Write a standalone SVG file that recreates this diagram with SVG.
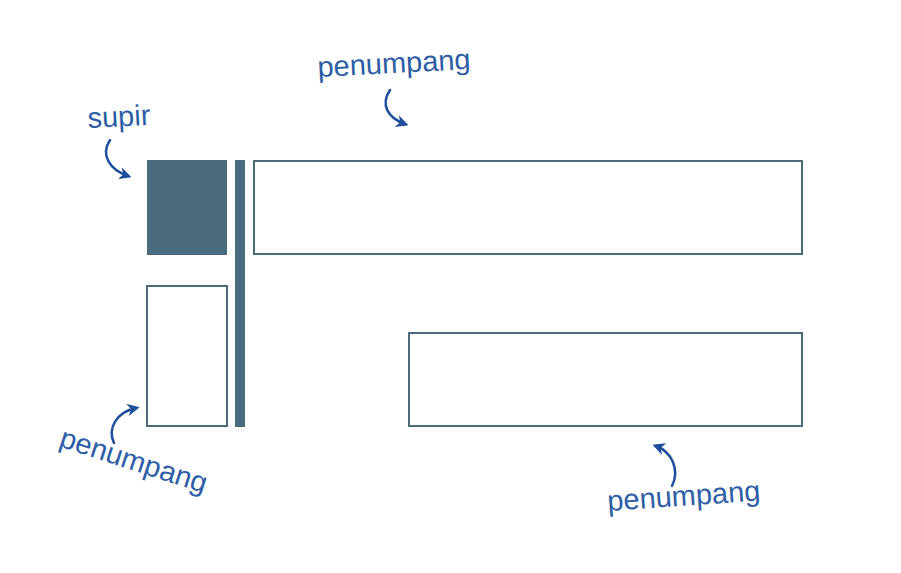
<svg xmlns="http://www.w3.org/2000/svg" width="901" height="573" viewBox="0 0 901 573">
<defs>
<marker id="ah" viewBox="0 0 10 10" refX="7" refY="5" markerWidth="5" markerHeight="5" orient="auto" markerUnits="strokeWidth">
<path d="M0,0 L10,5 L0,10 L3,5 Z" fill="#1f4f9c"/>
</marker>
<style>
.lbl{font-family:"Liberation Sans",Arial,sans-serif;font-size:29px;fill:#2d5ea6;}
.box{fill:#ffffff;stroke:#4a6a7c;stroke-width:2;}
.solid{fill:#4a6b7d;}
.arr{fill:none;stroke:#1f4f9c;stroke-width:2.5;stroke-linecap:round;marker-end:url(#ah);}
</style>
</defs>
<rect width="901" height="573" fill="#ffffff"/>
<g id="supir-seat"><rect class="solid" x="147" y="160" width="80" height="95"/></g>
<g id="divider"><rect class="solid" x="235" y="160" width="10" height="267"/></g>
<g id="top-bench"><rect class="box" x="254" y="161" width="548" height="93"/></g>
<g id="left-bench"><rect class="box" x="147" y="286" width="80" height="140"/></g>
<g id="right-bench"><rect class="box" x="409" y="333" width="393" height="93"/></g>
<g id="labels">
<text class="lbl" x="318" y="77" transform="rotate(-3 318 77)">penumpang</text>
<text class="lbl" x="88" y="128" font-size="27" transform="rotate(-3 88 128)">supir</text>
<text class="lbl" x="58" y="446" transform="rotate(18 58 446)">penumpang</text>
<text class="lbl" x="608" y="511" transform="rotate(-4 608 511)">penumpang</text>
</g>
<g id="connectors">
<path class="arr" d="M390,90 C380,105 388,118 405,124"/>
<path class="arr" d="M110,140 C100,155 110,170 128,176"/>
<path class="arr" d="M114,443 C107,428 117,412 136,408"/>
<path class="arr" d="M672,486 C680,470 672,452 656,446"/>
</g>
</svg>
